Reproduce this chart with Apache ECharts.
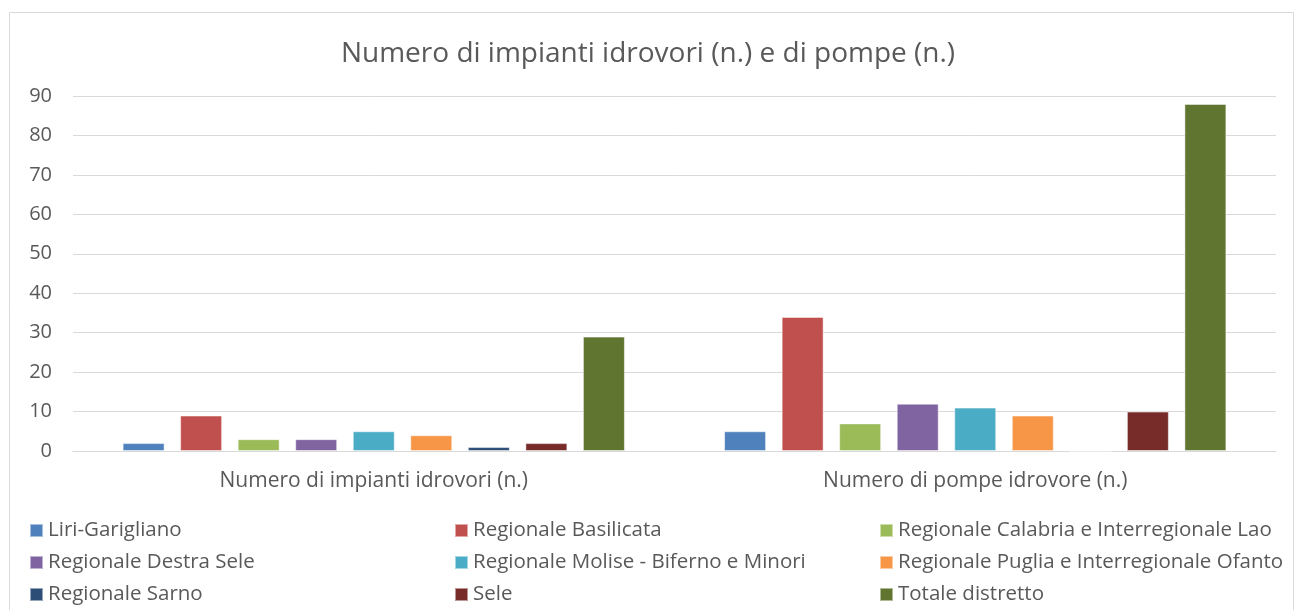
<!DOCTYPE html>
<html>
<head>
<meta charset="utf-8">
<script src="https://cdn.jsdelivr.net/npm/echarts@6/dist/echarts.min.js"></script>
<style>
html,body{margin:0;padding:0;background:#fff;}
#chart{width:1296px;height:610px;}
</style>
</head>
<body>
<div id="chart"></div>
<script>
var categories = ['Numero di impianti idrovori (n.)', 'Numero di pompe idrovore (n.)'];
var seriesNames = [
	'Liri-Garigliano',
	'Regionale Basilicata',
	'Regionale Calabria e Interregionale Lao',
	'Regionale Destra Sele',
	'Regionale Molise - Biferno e Minori',
	'Regionale Puglia e Interregionale Ofanto',
	'Regionale Sarno',
	'Sele',
	'Totale distretto'
];
var liriGarigliano = [2, 5];
var basilicata = [9, 34];
var calabriaLao = [3, 7];
var destraSele = [3, 12];
var moliseBiferno = [5, 11];
var pugliaOfanto = [4, 9];
var sarno = [1, 0];
var sele = [2, 10];
var totale = [29, 88];
var seriesValues = [liriGarigliano, basilicata, calabriaLao, destraSele, moliseBiferno, pugliaOfanto, sarno, sele, totale];
var colors = ['#4F81BD', '#C0504D', '#9BBB59', '#8064A2', '#4BACC6', '#F79646', '#2C4D75', '#772C2A', '#5F7530'];

var font = 'Open Sans, Noto Sans, sans-serif';
var dom = document.getElementById('chart');
var myChart = echarts.init(dom);

var series = [];
for (var i = 0; i < seriesNames.length; i++) {
	series.push({
		name: seriesNames[i],
		type: 'bar',
		data: seriesValues[i],
		barWidth: 42,
		barGap: '37%',
		itemStyle: {color: colors[i], borderColor: 'rgba(255,255,255,0.5)', borderWidth: 1}
	});
}

function legendCol(names, left) {
	return {
		orient: 'vertical',
		left: left,
		top: 520,
		padding: 0,
		itemWidth: 13,
		itemHeight: 13,
		itemGap: 11,
		icon: 'rect',
		selectedMode: false,
		textStyle: {fontFamily: font, fontSize: 20.5, lineHeight: 20, color: '#595959'},
		data: names
	};
}

var option = {
	color: colors,
	animation: false,
	title: {
		text: 'Numero di impianti idrovori (n.) e di pompe (n.)',
		left: 'center',
		top: 35,
		textStyle: {fontFamily: font, fontSize: 28, fontWeight: 'normal', color: '#595959'}
	},
	graphic: [{
		type: 'rect',
		shape: {x: 9.5, y: 12.5, width: 1284, height: 610},
		style: {fill: 'none', stroke: '#d9d9d9', lineWidth: 1}
	}],
	legend: [
		legendCol([seriesNames[0], seriesNames[3], seriesNames[6]], 29),
		legendCol([seriesNames[1], seriesNames[4], seriesNames[7]], 454),
		legendCol([seriesNames[2], seriesNames[5], seriesNames[8]], 879)
	],
	grid: {left: 73, right: 20, top: 96, bottom: 159},
	xAxis: {
		type: 'category',
		data: categories,
		axisTick: {show: false},
		axisLine: {lineStyle: {color: '#d9d9d9', width: 1}},
		axisLabel: {fontFamily: font, fontSize: 21, color: '#595959', margin: 20}
	},
	yAxis: {
		type: 'value',
		min: 0,
		max: 90,
		interval: 10,
		axisLine: {show: false},
		axisTick: {show: false},
		splitLine: {lineStyle: {color: '#d9d9d9', width: 1}},
		axisLabel: {fontFamily: font, fontSize: 20, color: '#595959', margin: 21}
	},
	series: series
};
myChart.setOption(option, true);
</script>
</body>
</html>
